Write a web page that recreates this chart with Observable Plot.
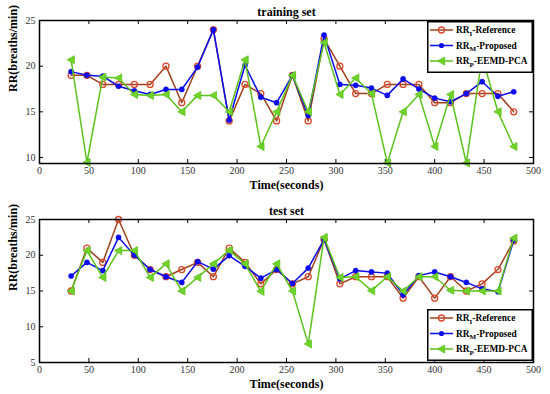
<!DOCTYPE html>
<html><head><meta charset="utf-8">
<script src="https://cdn.jsdelivr.net/npm/d3@7"></script>
<script src="https://cdn.jsdelivr.net/npm/@observablehq/plot@0.6"></script>
<style>
body{margin:0;background:#fff;}
.panel{position:relative;width:550px;height:197px;}
</style></head><body>
<div id="top" class="panel"></div>
<div id="bottom" class="panel"></div>
<script>
const time = [32,48,64,80,96,112,128,144,160,176,192,208,224,240,256,272,288,304,320,336,352,368,384,400,416,432,448,464,480];

const trainRef  = [19,19,18,18,18,18,20,16,20,24,14,18,17,14,19,14,23,20,17,17,18,18,18,16,16,17,17,17,15];
const trainProp = [19.4,19.0,18.9,17.8,17.3,16.9,17.45,17.45,19.9,24.0,14.1,20.1,16.6,16.0,19.0,14.6,23.4,18.0,17.9,17.6,16.8,18.6,17.5,16.5,16.1,17.0,18.3,16.7,17.2];
const trainPCA  = [20.7,9.45,18.8,18.7,16.9,16.8,16.9,15.0,16.8,16.8,15.0,20.7,11.2,15.0,19.0,15.0,22.6,16.9,18.7,17.0,9.4,15.0,16.9,11.2,16.9,9.4,21.0,15.0,11.2];

const testRef  = [15,21,19,25,20,18,17,18,19,17,21,19,16,18,16,17,22.2,16,17,17,17,14,17,14,17,15,16,18,22];
const testProp = [17.1,19.0,17.85,22.5,20.0,18.0,17.0,16.2,19.1,18.05,19.95,18.45,16.8,18.0,16.05,18.2,22.2,16.7,17.85,17.67,17.5,14.45,17.15,17.67,17.0,16.2,15.3,14.9,22.1];
const testPCA  = [15,20.65,16.9,20.65,20.65,16.9,18.8,15.0,16.9,18.8,20.7,18.8,14.95,18.8,15.0,7.6,22.5,16.9,17.0,15.05,17.0,15.0,17.0,17.0,15.1,15.0,15.0,15.0,22.4];

const xTicks = [0,50,100,150,200,250,300,350,400,450,500];
const yTicksTrain = [10,15,20,25];
const yTicksTest = [5,10,15,20,25];
const seriesNames = ["Reference","Proposed","EEMD-PCA"];
const seriesSubs = ["I","M","P"];

const refLine = "#a0401c", refMarker = "#d9482b";
const propColor = "#0a0aee";
const pcaLine = "#5cc21c", pcaFill = "#6fd42a";

const leftTri = {
  draw(ctx, size) {
    const r = Math.sqrt(size / Math.PI);
    ctx.moveTo(-r, 0);
    ctx.lineTo(r * 0.8, -r);
    ctx.lineTo(r * 0.8, r);
    ctx.closePath();
  }
};

const serif = "'Liberation Serif', 'Times New Roman', serif";
const W = 550, H = 197, ML = 39, MR = 17;

function makePanel({title, ref, prop, pca, yDomain, yTicks, marginTop, marginBottom}) {
  const rows = time.map((t, i) => ({t, ref: ref[i], prop: prop[i], pca: pca[i]}));
  const pw = W - ML - MR, ph = H - marginTop - marginBottom;
  return Plot.plot({
    width: W, height: H, marginLeft: ML, marginRight: MR, marginTop, marginBottom,
    style: {fontFamily: serif, fontSize: "10px", color: "#333", background: "white", overflow: "visible"},
    x: {domain: [0, 500]},
    y: {domain: yDomain},
    marks: [
      Plot.axisX(xTicks, {anchor: "bottom", tickSize: 0, tickPadding: 3, label: null, fill: "#333"}),
      Plot.axisY(yTicks, {anchor: "left", tickSize: 0, tickPadding: 4, label: null, fill: "#333"}),
      // inward ticks on all four sides
      Plot.ruleX(xTicks, {x: d => d, insetTop: ph - 4, stroke: "#000", strokeWidth: 1}),
      Plot.ruleX(xTicks, {x: d => d, insetBottom: ph - 4, stroke: "#000", strokeWidth: 1}),
      Plot.ruleY(yTicks, {y: d => d, insetRight: pw - 4, stroke: "#000", strokeWidth: 1}),
      Plot.ruleY(yTicks, {y: d => d, insetLeft: pw - 4, stroke: "#000", strokeWidth: 1}),
      // series
      Plot.line(rows, {x: "t", y: "ref", stroke: refLine, strokeWidth: 1.5}),
      Plot.dot(rows, {x: "t", y: "ref", r: 3, stroke: refMarker, strokeWidth: 1.3, fill: "none"}),
      Plot.line(rows, {x: "t", y: "prop", stroke: propColor, strokeWidth: 1.5}),
      Plot.dot(rows, {x: "t", y: "prop", r: 2.6, fill: propColor, stroke: propColor, strokeWidth: 0.5}),
      Plot.line(rows, {x: "t", y: "pca", stroke: pcaLine, strokeWidth: 1.5}),
      Plot.dot(rows, {x: "t", y: "pca", r: 4, symbol: leftTri, fill: pcaFill, stroke: pcaLine, strokeWidth: 0.8}),
      Plot.frame({stroke: "#000", strokeWidth: 1.5}),
      // titles
      Plot.text([title], {frameAnchor: "top", dy: -8, fontWeight: "bold", fontSize: 12, fill: "#000", lineAnchor: "middle"}),
      Plot.text(["Time(seconds)"], {frameAnchor: "bottom", dy: 22, fontWeight: "bold", fontSize: 12, fill: "#000", lineAnchor: "middle"}),
      Plot.text(["RR(breaths/min)"], {frameAnchor: "left", dx: -26, rotate: -90, fontWeight: "bold", fontSize: 12, fill: "#000", lineAnchor: "middle"})
    ]
  });
}

function makeLegend(left, top) {
  const colorsLine = [refLine, propColor, pcaLine];
  const w = 106, h = 52;
  const svg = d3.create("svg").attr("width", w).attr("height", h)
    .style("position", "absolute").style("left", left + "px").style("top", top + "px");
  svg.append("rect").attr("x", 0.75).attr("y", 0.75).attr("width", w - 1.5).attr("height", h - 1.5)
    .attr("fill", "#fff").attr("stroke", "#000").attr("stroke-width", 1.5);
  seriesNames.forEach((name, i) => {
    const cy = 9 + i * 15.5;
    svg.append("line").attr("x1", 3).attr("x2", 26).attr("y1", cy).attr("y2", cy)
      .attr("stroke", colorsLine[i]).attr("stroke-width", 1.5);
    if (i === 0) svg.append("circle").attr("cx", 14.5).attr("cy", cy).attr("r", 3).attr("fill", "none").attr("stroke", refMarker).attr("stroke-width", 1.3);
    if (i === 1) svg.append("circle").attr("cx", 14.5).attr("cy", cy).attr("r", 2.6).attr("fill", propColor);
    if (i === 2) {
      const p = d3.path(); leftTri.draw(p, Math.PI * 16);
      svg.append("path").attr("d", p.toString()).attr("transform", `translate(14.5,${cy})`)
        .attr("fill", pcaFill).attr("stroke", pcaLine).attr("stroke-width", 0.8);
    }
    const t = svg.append("text").attr("x", 29).attr("y", cy + 3)
      .attr("font-family", serif).attr("font-weight", "bold").attr("font-size", 9.4).attr("fill", "#000");
    t.append("tspan").text("RR");
    t.append("tspan").attr("font-size", 7).attr("dy", 2.5).text(seriesSubs[i]);
    t.append("tspan").attr("dy", -2.5).text("-" + name);
  });
  return svg.node();
}

const topEl = document.getElementById("top");
topEl.appendChild(makePanel({title: "training set", ref: trainRef, prop: trainProp, pca: trainPCA,
  yDomain: [9.34, 25], yTicks: yTicksTrain, marginTop: 20, marginBottom: 34}));
topEl.appendChild(makeLegend(427, 21));

const botEl = document.getElementById("bottom");
botEl.appendChild(makePanel({title: "test set", ref: testRef, prop: testProp, pca: testPCA,
  yDomain: [5, 25], yTicks: yTicksTest, marginTop: 22, marginBottom: 32}));
botEl.appendChild(makeLegend(427, 112));
</script>
</body></html>
